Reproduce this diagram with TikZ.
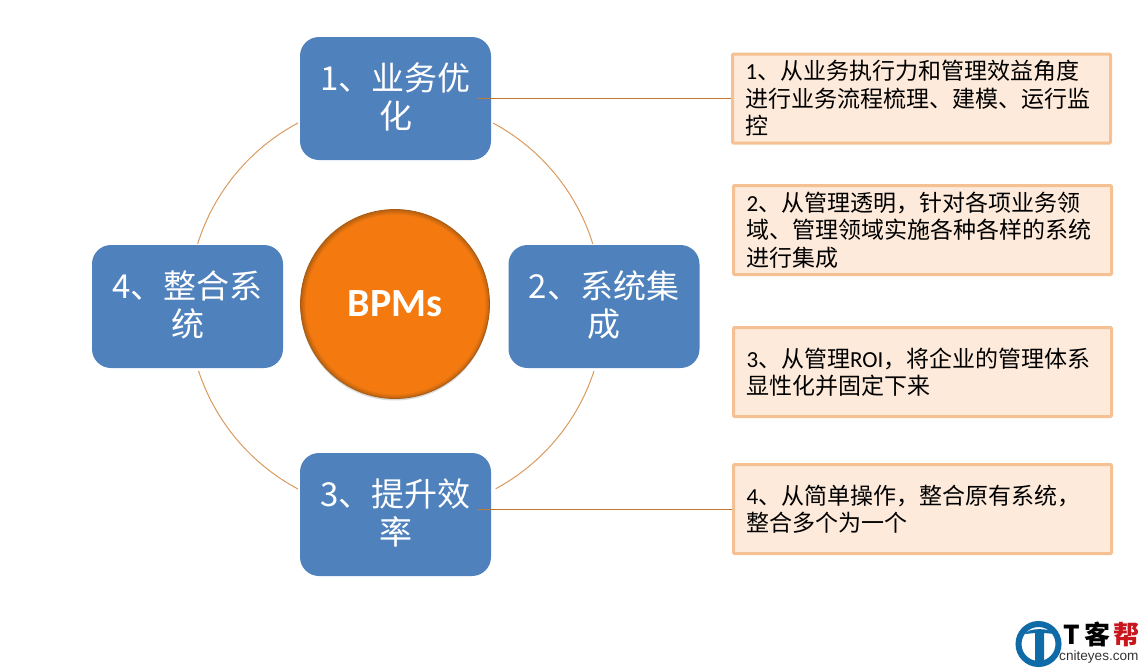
\documentclass[tikz,border=0pt]{standalone}
\usepackage{fontspec}
\setmainfont{Noto Sans CJK SC}
\setsansfont{Carlito}
\newfontfamily\webfont{Liberation Sans}
\usepackage{xcolor}
\usepackage{tikz}
\usetikzlibrary{arrows.meta,positioning,calc,backgrounds,shadows}
\definecolor{accent}{HTML}{4F81BD}
\definecolor{hub}{HTML}{F47A10}
\definecolor{hubedge}{HTML}{A85A10}
\definecolor{wire}{HTML}{D99A5E}
\definecolor{wiredark}{HTML}{C2772F}
\definecolor{noteline}{HTML}{F5C193}
\definecolor{notefill}{HTML}{FDEADA}
\definecolor{logoblue}{HTML}{0F6AA8}
\definecolor{logored}{HTML}{C8161D}
\pgfdeclareradialshading{hubrim}{\pgfpoint{0bp}{0bp}}{%
  color(0bp)=(hub); color(23.6bp)=(hub); color(25bp)=(hubedge!80!hub); color(50bp)=(hubedge!80!hub)}

\begin{document}
\begin{tikzpicture}[
  x=1pt,y=-1pt,
  stage/.style={fill=accent,rounded corners=19pt,minimum width=191pt,minimum height=123pt,
                inner sep=0pt,text width=180pt,align=center,text=white,
                font=\fontsize{33}{38}\selectfont,
                execute at end node={\rule[-5pt]{0pt}{0pt}}},
  note/.style={draw=noteline,line width=3pt,fill=notefill,rounded corners=1pt,
               minimum width=378pt,minimum height=89pt,
               inner sep=0pt,text width=352pt,align=left,text=black,
               font=\fontsize{23}{27.5}\selectfont},
  arc line/.style={draw=wire,line width=1pt},
  tie/.style={draw=wiredark,line width=1pt},
]
\useasboundingbox (0,0) rectangle (1143,670);

\node[circle,shade,shading=hubrim,draw=hubedge,line width=.8pt,minimum size=189pt,inner sep=0pt,
      drop shadow={shadow xshift=0pt,shadow yshift=-2pt,opacity=.3},
      text=white,font=\sffamily\bfseries\fontsize{40}{46}\selectfont] (bpms) at (395,304) {BPMs};

\node[stage] (opt) at (395.5,98.5) {1、业务优\\化};
\node[stage] (sys) at (604,306.5) {2、系统集\\成};
\node[stage] (eff) at (395.5,514.5) {3、提升效\\率};
\node[stage] (int) at (187.5,306.5) {4、整合系\\统};

\node[note] (n1) at (921.5,98.5) {{\sffamily 1}、从业务执行力和管理效益角度\\进行业务流程梳理、建模、运行监\\控};
\node[note] (n2) at (922.5,230) {{\sffamily 2}、从管理透明，针对各项业务领\\域、管理领域实施各种各样的系统\\进行集成};
\node[note] (n3) at (922.5,372) {{\sffamily 3}、从管理{\sffamily ROI}，将企业的管理体系\\显性化并固定下来};
\node[note] (n4) at (922.5,509) {{\sffamily 4}、从简单操作，整合原有系统，\\整合多个为一个};

% ring between the four boxes
\coordinate (ring) at (395,306);
\coordinate (a1) at ($(ring)+(-97,-183)$);
\coordinate (a2) at ($(ring)+(98,-183)$);
\coordinate (a3) at ($(ring)+(199,65)$);
\coordinate (a4) at ($(ring)+(-97,183)$);
\draw[arc line] (a1) arc[start angle=-118,end angle=-162.6,radius=207];
\draw[arc line] (a2) arc[start angle=-61.8,end angle=-17.3,radius=207];
\draw[arc line] (a3) arc[start angle=18.1,end angle=61.6,radius=207];
\draw[arc line] (a4) arc[start angle=118,end angle=161.8,radius=207];

\coordinate (t1) at (477,98.5);
\coordinate (t4) at (477,509);
\draw[tie] (t1) -- (n1.west);
\draw[tie] (t4) -- (n4.west);

% logo
\node[circle,draw=logoblue,line width=6pt,minimum size=40pt,inner sep=0pt] (mark) at (1038.5,644) {};
\fill[logoblue] (1025,634) .. controls (1027,628) and (1050,627) .. (1055,634) -- (1044,633) -- (1044,662) -- (1035,662) -- (1035,633) -- cycle;
\node[font=\bfseries\fontsize{26}{26}\selectfont,text=black,inner sep=0pt,anchor=west] (brand) at (1063,634) {T\hspace{5pt}客\hspace{3pt}\textcolor{logored}{帮}};
\node[font=\webfont\fontsize{13.6}{14}\selectfont,text=black!80,inner sep=0pt,anchor=west] (site) at (1059,657) {cniteyes.com};
\end{tikzpicture}
\end{document}
